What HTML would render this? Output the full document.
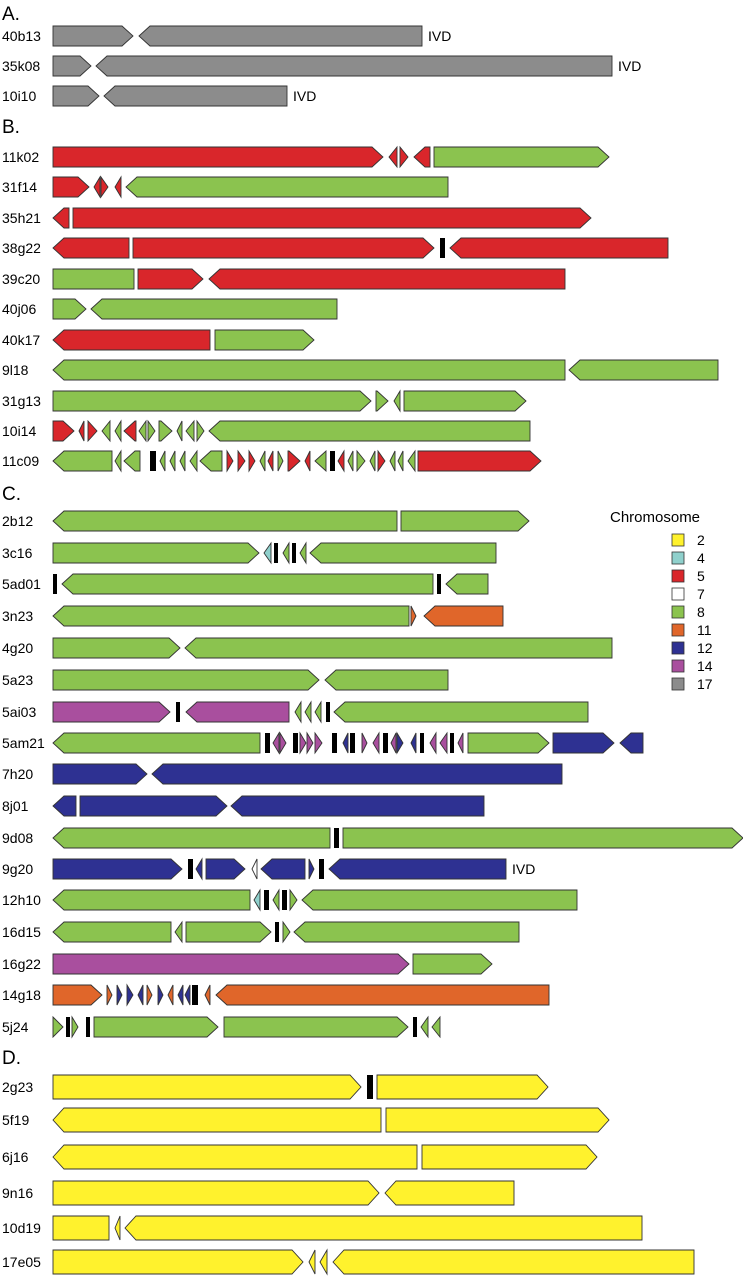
<!DOCTYPE html>
<html><head><meta charset="utf-8"><style>
body{margin:0;background:#fff;}
svg{display:block;font-family:"Liberation Sans",sans-serif;}
</style></head><body>
<svg id="chart" width="743" height="1280" viewBox="0 0 743 1280" xmlns="http://www.w3.org/2000/svg"></svg>
<script>
const colors={g:"#8c8c8c",r:"#d9262b",G:"#8bc34f",b:"#2e3192",p:"#a94f9e",o:"#e0662a",y:"#fff22d",c:"#8fd0cc",w:"#ffffff",k:"#000000"};
const sections=[["A.",14],["B.",127],["C.",494],["D.",1058]];
const rowNames=["40b13","35k08","10i10","11k02","31f14","35h21","38g22","39c20","40j06","40k17","9l18","31g13","10i14","11c09","2b12","3c16","5ad01","3n23","4g20","5a23","5ai03","5am21","7h20","8j01","9d08","9g20","12h10","16d15","16g22","14g18","5j24","2g23","5f19","6j16","9n16","10d19","17e05"];
const rowY=[36,66,96,157,187,218,248,279,309,340,370,401,431,461,521,553,584,616,648,680,712,743,774,806,838,869,900,932,964,995,1027,1087,1120,1157,1193,1228,1262];
const ivd={"40b13":428,"35k08":618,"10i10":293,"9g20":512};
// segments: [start, end, type(R/L/N/B), color]
const segs=[
[[53,133,"R","g"],[139,422,"L","g"]],
[[53,91,"R","g"],[96,612,"L","g"]],
[[53,99,"R","g"],[104,287,"L","g"]],
[[53,383,"R","r"],[389,397,"L","r"],[400,408,"R","r"],[414,430,"L","r"],[434,609,"R","G"]],
[[53,89,"R","r"],[94,100,"L","r"],[101,108,"R","r"],[115,121,"L","r"],[126,448,"L","G"]],
[[53,69,"L","r"],[73,591,"R","r"]],
[[53,129,"L","r"],[133,434,"R","r"],[440,445,"B","k"],[450,668,"L","r"]],
[[53,134,"N","G"],[138,203,"R","r"],[209,565,"L","r"]],
[[53,86,"R","G"],[91,337,"L","G"]],
[[53,210,"L","r"],[215,314,"R","G"]],
[[53,565,"L","G"],[569,718,"L","G"]],
[[53,371,"R","G"],[376,388,"R","G"],[394,400,"L","G"],[404,526,"R","G"]],
[[53,74,"R","r"],[79,84,"L","r"],[88,97,"R","r"],[102,110,"L","G"],[115,121,"L","G"],[124,136,"L","r"],[139,146,"L","G"],[148,155,"R","G"],[159,172,"R","G"],[177,182,"L","G"],[186,194,"L","G"],[197,204,"R","G"],[209,530,"L","G"]],
[[53,112,"L","G"],[115,121,"L","G"],[124,140,"L","G"],[150,156,"B","k"],[160,165,"L","G"],[170,175,"L","G"],[180,185,"L","G"],[190,197,"L","G"],[200,222,"L","G"],[227,233,"R","r"],[238,245,"R","r"],[249,255,"R","r"],[260,265,"L","G"],[268,273,"L","r"],[278,283,"R","G"],[288,300,"R","r"],[305,310,"L","r"],[315,326,"L","G"],[330,335,"B","k"],[338,344,"L","r"],[348,353,"L","G"],[357,365,"R","G"],[370,375,"L","G"],[378,385,"R","r"],[390,395,"L","G"],[398,403,"L","G"],[408,415,"L","G"],[418,541,"R","r"]],
[[53,397,"L","G"],[401,529,"R","G"]],
[[53,259,"R","G"],[264,271,"L","c"],[274,278,"B","k"],[283,289,"L","G"],[292,296,"B","k"],[300,306,"L","G"],[310,496,"L","G"]],
[[53,57,"B","k"],[62,433,"L","G"],[437,441,"B","k"],[446,488,"L","G"]],
[[53,409,"L","G"],[411,416,"R","o"],[424,503,"L","o"]],
[[53,180,"R","G"],[185,612,"L","G"]],
[[53,319,"R","G"],[325,448,"L","G"]],
[[53,170,"R","p"],[176,180,"B","k"],[186,289,"L","p"],[295,301,"L","G"],[305,311,"L","G"],[315,321,"L","G"],[326,330,"B","k"],[334,588,"L","G"]],
[[53,260,"L","G"],[265,270,"B","k"],[273,279,"L","p"],[280,286,"R","p"],[293,298,"B","k"],[300,306,"R","p"],[307,313,"R","p"],[315,322,"R","p"],[332,337,"B","k"],[343,348,"L","b"],[350,355,"B","k"],[362,367,"R","p"],[373,379,"L","p"],[383,388,"B","k"],[391,396,"L","p"],[397,403,"R","b"],[411,416,"L","b"],[420,424,"B","k"],[430,436,"L","p"],[440,447,"L","p"],[450,454,"B","k"],[458,463,"L","p"],[468,549,"R","G"],[553,614,"R","b"],[620,643,"L","b"]],
[[53,147,"R","b"],[152,562,"L","b"]],
[[53,76,"L","b"],[80,227,"R","b"],[231,484,"L","b"]],
[[53,330,"L","G"],[334,339,"B","k"],[343,743,"R","G"]],
[[53,182,"R","b"],[188,193,"B","k"],[196,202,"L","b"],[206,245,"R","b"],[252,257,"L","w"],[261,305,"L","b"],[309,314,"R","b"],[319,324,"B","k"],[329,506,"L","b"]],
[[53,250,"L","G"],[254,260,"L","c"],[264,269,"B","k"],[273,279,"L","G"],[282,287,"B","k"],[290,297,"R","G"],[302,577,"L","G"]],
[[53,171,"L","G"],[175,182,"L","G"],[186,271,"R","G"],[275,279,"B","k"],[283,290,"R","G"],[294,519,"L","G"]],
[[53,409,"R","p"],[413,492,"R","G"]],
[[53,102,"R","o"],[107,112,"R","o"],[117,122,"R","b"],[127,133,"R","b"],[138,143,"L","b"],[147,152,"R","o"],[158,163,"R","b"],[168,173,"L","o"],[178,183,"L","b"],[185,190,"L","b"],[192,198,"B","k"],[205,210,"L","o"],[216,549,"L","o"]],
[[53,63,"R","G"],[66,70,"B","k"],[72,78,"R","G"],[86,90,"B","k"],[94,218,"R","G"],[224,408,"R","G"],[413,417,"B","k"],[421,428,"L","G"],[432,440,"L","G"]],
[[53,361,"R","y"],[367,373,"B","k"],[377,548,"R","y"]],
[[53,381,"L","y"],[386,609,"R","y"]],
[[53,417,"L","y"],[422,597,"R","y"]],
[[53,379,"R","y"],[385,514,"L","y"]],
[[53,109,"N","y"],[115,120,"L","y"],[125,642,"L","y"]],
[[53,303,"R","y"],[309,315,"L","y"],[320,327,"L","y"],[333,694,"L","y"]]
];
const legendLabels=["2","4","5","7","8","11","12","14","17"];
const legendColors=["y","c","r","w","G","o","b","p","g"];

const NS="http://www.w3.org/2000/svg";
const svg=document.getElementById("chart");
function mk(tag,attrs){const e=document.createElementNS(NS,tag);for(const k in attrs)e.setAttribute(k,attrs[k]);svg.appendChild(e);return e;}
sections.forEach(s=>{
  const t=mk("text",{x:2,y:s[1]+6,"font-size":19});t.textContent=s[0];
  
  
});
rowNames.forEach((name,i)=>{
  const cy=rowY[i];
  const h=i>=31?24:20;
  const t=mk("text",{x:2,y:cy+5,"font-size":14});t.textContent=name;
  
  
  segs[i].forEach(s=>{
    const [a,b,ty,c]=s;const top=cy-h/2,bot=cy+h/2;const w=b-a;
    let pts;
    if(ty==="B"){
      const r=mk("rect",{x:a,y:top,width:w,height:h,fill:"#000"});
      
      
      return;
    }
    const hd=Math.min(11,w);
    if(ty==="R") pts=[[a,top],[b-hd,top],[b,cy],[b-hd,bot],[a,bot]];
    else if(ty==="L") pts=[[a,cy],[a+hd,top],[b,top],[b,bot],[a+hd,bot]];
    else pts=[[a,top],[b,top],[b,bot],[a,bot]];
    const p=mk("polygon",{points:pts.map(q=>q.join(",")).join(" "),fill:colors[c],stroke:"#333","stroke-width":0.9});
    
    
  });
  if(ivd[name]!==undefined){
    const v=mk("text",{x:ivd[name],y:cy+5,"font-size":14});v.textContent="IVD";
    
    
  }
});
const lt=mk("text",{x:610,y:522,"font-size":15});lt.textContent="Chromosome";


legendLabels.forEach((l,i)=>{
  const y=540+i*18;
  const r=mk("rect",{x:672,y:y-6,width:12,height:12,fill:colors[legendColors[i]],stroke:"#333","stroke-width":0.8});
  
  
  const t=mk("text",{x:697,y:y+5,"font-size":14});t.textContent=l;
  
  
});
</script>
</body></html>
